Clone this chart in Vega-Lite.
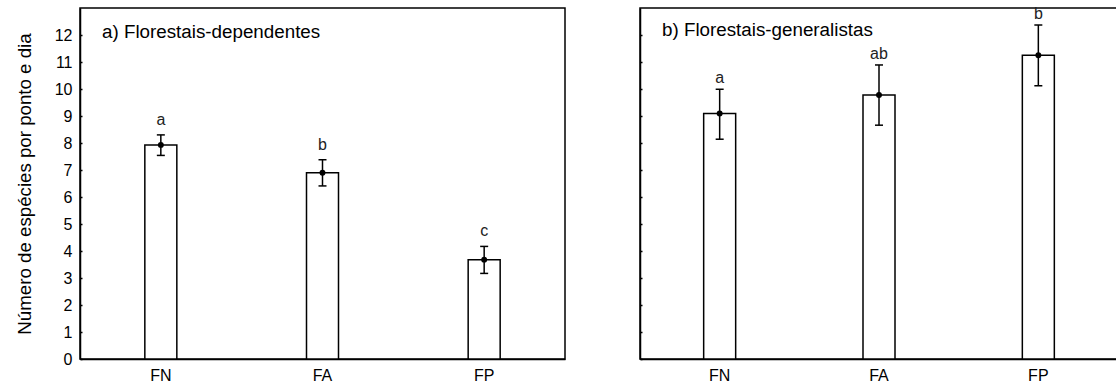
{
  "$schema": "https://vega.github.io/schema/vega-lite/v6.json",
  "padding": {"left": 14, "top": 5, "right": 0, "bottom": 0},
  "spacing": 72,
  "datasets": {
    "d": [
      {"painel": "a", "grupo": "FN", "media": 7.93, "inf": 7.54, "sup": 8.30, "letra": "a"},
      {"painel": "a", "grupo": "FA", "media": 6.90, "inf": 6.41, "sup": 7.38, "letra": "b"},
      {"painel": "a", "grupo": "FP", "media": 3.68, "inf": 3.17, "sup": 4.17, "letra": "c"},
      {"painel": "b", "grupo": "FN", "media": 9.09, "inf": 8.14, "sup": 9.99, "letra": "a"},
      {"painel": "b", "grupo": "FA", "media": 9.78, "inf": 8.66, "sup": 10.89, "letra": "ab"},
      {"painel": "b", "grupo": "FP", "media": 11.25, "inf": 10.12, "sup": 12.37, "letra": "b"}
    ]
  },
  "config": {
    "font": "Liberation Sans",
    "view": {"stroke": "black", "strokeWidth": 1.5},
    "axis": {
      "domainColor": "black", "domainWidth": 1.5, "tickColor": "black", "tickWidth": 1.5,
      "labelColor": "black", "labelFontSize": 16, "titleColor": "black", "titleFontSize": 18.7,
      "titleFontWeight": "normal", "grid": false, "labelOverlap": false
    },
    "axisY": {"values": [0,1,2,3,4,5,6,7,8,9,10,11,12], "tickCount": 13, "tickSize": -2, "labelPadding": 10, "titlePadding": 20},
    "title": {"fontWeight": "normal", "fontSize": 18.8, "color": "black"}
  },
  "hconcat": [
    {
      "width": 485, "height": 351,
      "data": {"name": "d"},
      "transform": [{"filter": "datum.painel === 'a'"}],
      "title": {"text": "a) Florestais-dependentes", "anchor": "start", "frame": "group", "dx": 22, "dy": 34, "offset": 0},
      "encoding": {
        "x": {"field": "grupo", "type": "nominal", "sort": ["FN", "FA", "FP"], "scale": {"paddingInner": 0, "paddingOuter": 0},
              "axis": {"title": null, "labelAngle": 0, "tickSize": -2, "labelPadding": 10, "labelFontSize": 16}}
      },
      "layer": [
        {"mark": {"type": "bar", "fill": "white", "stroke": "black", "strokeWidth": 1.5, "width": 32},
         "encoding": {"y": {"field": "media", "type": "quantitative", "title": "Número de espécies por ponto e dia",
           "scale": {"domain": [0, 13], "nice": false},
           "axis": {"values": [0,1,2,3,4,5,6,7,8,9,10,11,12]}}}},
        {"mark": {"type": "rule", "strokeWidth": 1.5, "color": "black"},
         "encoding": {"y": {"field": "inf", "type": "quantitative", "title": "Número de espécies por ponto e dia", "axis": {"values": [0,1,2,3,4,5,6,7,8,9,10,11,12]}}, "y2": {"field": "sup"}}},
        {"mark": {"type": "tick", "size": 8, "thickness": 1.5, "color": "black", "opacity": 1},
         "encoding": {"y": {"field": "inf", "type": "quantitative", "title": "Número de espécies por ponto e dia", "axis": {"values": [0,1,2,3,4,5,6,7,8,9,10,11,12]}}}},
        {"mark": {"type": "tick", "size": 8, "thickness": 1.5, "color": "black", "opacity": 1},
         "encoding": {"y": {"field": "sup", "type": "quantitative", "title": "Número de espécies por ponto e dia", "axis": {"values": [0,1,2,3,4,5,6,7,8,9,10,11,12]}}}},
        {"mark": {"type": "point", "filled": true, "size": 35, "color": "black", "opacity": 1},
         "encoding": {"y": {"field": "media", "type": "quantitative", "title": "Número de espécies por ponto e dia", "axis": {"values": [0,1,2,3,4,5,6,7,8,9,10,11,12]}}}},
        {"mark": {"type": "text", "fontSize": 16, "dy": -15, "baseline": "middle", "color": "#222"},
         "encoding": {"y": {"field": "sup", "type": "quantitative", "title": "Número de espécies por ponto e dia", "axis": {"values": [0,1,2,3,4,5,6,7,8,9,10,11,12]}}, "text": {"field": "letra"}}}
      ]
    },
    {
      "width": 478, "height": 351,
      "data": {"name": "d"},
      "transform": [{"filter": "datum.painel === 'b'"}],
      "title": {"text": "b) Florestais-generalistas", "anchor": "start", "frame": "group", "dx": 22, "dy": 34, "offset": 0},
      "encoding": {
        "x": {"field": "grupo", "type": "nominal", "sort": ["FN", "FA", "FP"], "scale": {"paddingInner": 0, "paddingOuter": 0},
              "axis": {"title": null, "labelAngle": 0, "tickSize": -2, "labelPadding": 10, "labelFontSize": 16}}
      },
      "layer": [
        {"mark": {"type": "bar", "fill": "white", "stroke": "black", "strokeWidth": 1.5, "width": 32},
         "encoding": {"y": {"field": "media", "type": "quantitative", "title": null,
           "scale": {"domain": [0, 13], "nice": false},
           "axis": {"values": [0,1,2,3,4,5,6,7,8,9,10,11,12], "labels": false}}}},
        {"mark": {"type": "rule", "strokeWidth": 1.5, "color": "black"},
         "encoding": {"y": {"field": "inf", "type": "quantitative", "title": null, "axis": {"values": [0,1,2,3,4,5,6,7,8,9,10,11,12], "labels": false}}, "y2": {"field": "sup"}}},
        {"mark": {"type": "tick", "size": 8, "thickness": 1.5, "color": "black", "opacity": 1},
         "encoding": {"y": {"field": "inf", "type": "quantitative", "title": null, "axis": {"values": [0,1,2,3,4,5,6,7,8,9,10,11,12], "labels": false}}}},
        {"mark": {"type": "tick", "size": 8, "thickness": 1.5, "color": "black", "opacity": 1},
         "encoding": {"y": {"field": "sup", "type": "quantitative", "title": null, "axis": {"values": [0,1,2,3,4,5,6,7,8,9,10,11,12], "labels": false}}}},
        {"mark": {"type": "point", "filled": true, "size": 35, "color": "black", "opacity": 1},
         "encoding": {"y": {"field": "media", "type": "quantitative", "title": null, "axis": {"values": [0,1,2,3,4,5,6,7,8,9,10,11,12], "labels": false}}}},
        {"mark": {"type": "text", "fontSize": 16, "dy": -11, "baseline": "middle", "color": "#222"},
         "encoding": {"y": {"field": "sup", "type": "quantitative", "title": null, "axis": {"values": [0,1,2,3,4,5,6,7,8,9,10,11,12], "labels": false}}, "text": {"field": "letra"}}}
      ]
    }
  ]
}
